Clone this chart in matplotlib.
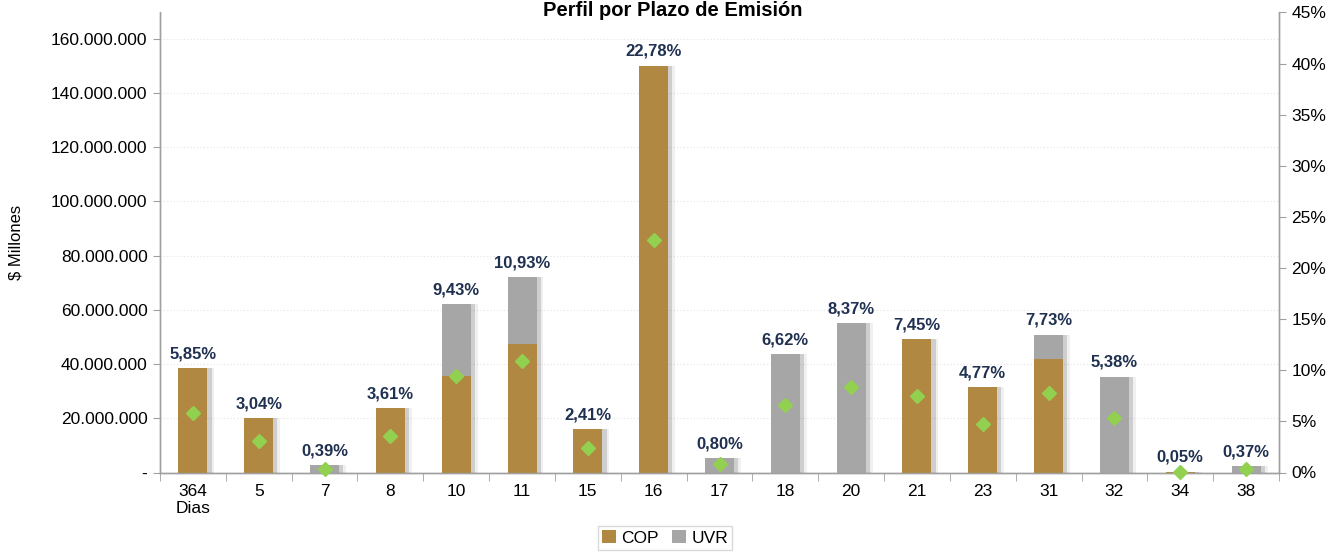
import matplotlib
matplotlib.use("Agg")
import matplotlib.pyplot as plt
import matplotlib.patheffects as pe
from matplotlib import font_manager
from matplotlib.patches import Patch
from matplotlib.ticker import FuncFormatter, MultipleLocator, FixedLocator
import numpy as np

names = {f.name for f in font_manager.fontManager.ttflist}
fam = [n for n in ["Liberation Sans Narrow", "Liberation Sans", "DejaVu Sans"] if n in names]
plt.rcParams['font.family'] = fam
narrow = "Liberation Sans Narrow" in names
FS = 13.5 if narrow else 12.5

categories = ["364\nDias", "5", "7", "8", "10", "11", "15", "16", "17", "18",
              "20", "21", "23", "31", "32", "34", "38"]
cop = [38.5, 20.0, 0.0, 23.8, 35.5, 47.4, 15.9, 150.0, 0.0, 0.0,
       0.0, 49.1, 31.4, 41.9, 0.0, 0.33, 0.0]          # millones de millones
uvr = [0.0, 0.0, 2.6, 0.0, 26.6, 24.6, 0.0, 0.0, 5.3, 43.6,
       55.1, 0.0, 0.0, 9.0, 35.4, 0.0, 2.4]
pct = [5.85, 3.04, 0.39, 3.61, 9.43, 10.93, 2.41, 22.78, 0.80, 6.62,
       8.37, 7.45, 4.77, 7.73, 5.38, 0.05, 0.37]

COP_C = "#B08841"
UVR_C = "#A6A6A6"
GREEN = "#92D050"
NAVY = "#1F3050"
AX_C = "#A0A0A0"

fig = plt.figure(figsize=(13.37, 5.57), dpi=100)
ax = fig.add_axes([160/1337, 1-472.5/557, (1279-160)/1337, (472.5-12.5)/557])
ax2 = ax.twinx()

x = np.arange(len(categories))
cop_v = np.array(cop) * 1e6
uvr_v = np.array(uvr) * 1e6
shadow = [pe.SimplePatchShadow(offset=(3, 0), shadow_rgbFace="#000000", alpha=0.14),
          pe.SimplePatchShadow(offset=(5, 0), shadow_rgbFace="#000000", alpha=0.06),
          pe.Normal()]
w = 0.44
b1 = ax.bar(x, cop_v, width=w, color=COP_C, zorder=3)
b2 = ax.bar(x, uvr_v, width=w, bottom=cop_v, color=UVR_C, zorder=3)
for b in list(b1) + list(b2):
    if b.get_height() > 0:
        b.set_path_effects(shadow)

ax.set_xlim(-0.5, len(categories) - 0.5)
ax.set_ylim(0, 169.7e6)
ax.yaxis.set_major_locator(MultipleLocator(20e6))

def fmt_left(v, p):
    if v == 0:
        return "-"
    return f"{int(round(v)):,}".replace(",", ".")
ax.yaxis.set_major_formatter(FuncFormatter(fmt_left))
ax.grid(axis='y', color="#E4E4E4", linestyle=(0, (1, 2)), linewidth=0.8, zorder=0)

ax.set_xticks(x)
ax.set_xticklabels(categories, fontsize=FS)
ax.xaxis.set_minor_locator(FixedLocator(np.arange(-0.5, len(categories), 1.0)))
ax.tick_params(axis='x', which='major', length=0, pad=8)
ax.tick_params(axis='x', which='minor', length=6, color=AX_C, direction='out')
ax.tick_params(axis='y', labelsize=FS, length=5, color=AX_C, pad=4)
ax.set_ylabel("$ Millones", fontsize=FS - 0.5, labelpad=20)

ax2.set_ylim(0, 45)
ax2.yaxis.set_major_locator(MultipleLocator(5))
ax2.yaxis.set_major_formatter(FuncFormatter(lambda v, p: f"{int(round(v))}%"))
ax2.tick_params(axis='y', labelsize=FS, length=5, color=AX_C, pad=4)
ax2.plot(x, pct, linestyle='none', marker='D', markersize=7, color=GREEN,
         markeredgecolor=GREEN, zorder=5, clip_on=False)
ax2.patch.set_visible(False)

for a in (ax, ax2):
    a.spines['top'].set_visible(False)
    for s in ('left', 'right', 'bottom'):
        a.spines[s].set_color(AX_C)
        a.spines[s].set_linewidth(1.0)

totals = cop_v + uvr_v
for xi, t, p in zip(x, totals, pct):
    ax.annotate(f"{p:.2f}%".replace(".", ","), (xi, t), xytext=(0, 5),
                textcoords='offset points', ha='center', va='bottom',
                fontsize=FS - 0.5, fontweight='bold', color=NAVY, zorder=6)

fig.text(0.503, 0.999, "Perfil por Plazo de Emisión", ha='center', va='top',
         fontsize=14.5, fontweight='bold', color="#000000")

handles = [Patch(facecolor=COP_C, edgecolor='none', label="COP"),
           Patch(facecolor=UVR_C, edgecolor='none', label="UVR")]
leg = fig.legend(handles=handles, loc='upper center', bbox_to_anchor=(0.4975, 0.055),
                 ncol=2, frameon=True, fancybox=False, fontsize=FS,
                 handlelength=0.8, handleheight=0.8, handletextpad=0.3,
                 columnspacing=0.8, borderpad=0.22, borderaxespad=0.0)
leg.get_frame().set_edgecolor("#D0D0D0")
leg.get_frame().set_linewidth(1.0)

fig.savefig("out.png", dpi=100)
